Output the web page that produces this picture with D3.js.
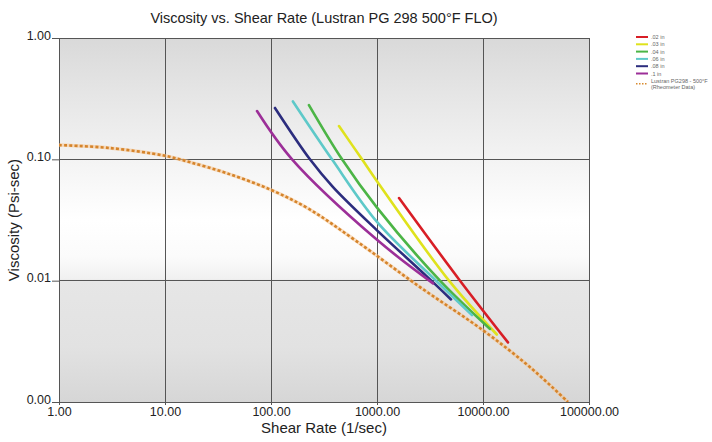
<!DOCTYPE html>
<html><head><meta charset="utf-8">
<script src="https://cdn.jsdelivr.net/npm/d3@7"></script>
<style>
html,body{margin:0;padding:0;background:#fff;}
svg{display:block;font-family:"Liberation Sans",Arial,sans-serif;}
</style></head>
<body>
<svg id="chart" width="712" height="442"></svg>
<script>
// ---- data ----
const shearTicks = [1, 10, 100, 1000, 10000, 100000];
const viscTicks = [0.001, 0.01, 0.1, 1];
const seriesNames = [".02 in", ".03 in", ".04 in", ".06 in", ".08 in", ".1 in"];
const seriesColors = ["#d81e26", "#dfe21c", "#4cb546", "#5ec9c9", "#2c2d7e", "#9c2f98"];
const s02 = [[1614, 0.048], [6070, 0.0100], [17200, 0.0031]];
const s03 = [[438, 0.188], [722, 0.100], [1000, 0.066], [4780, 0.0100], [13500, 0.0036]];
const s04 = [[228, 0.28], [468, 0.100], [1000, 0.040], [3930, 0.0100], [11650, 0.0040]];
const s06 = [[161, 0.30], [376, 0.100], [1000, 0.0305], [3600, 0.0100], [7870, 0.0052]];
const s08 = [[109, 0.265], [233, 0.100], [385, 0.059], [1000, 0.026], [2900, 0.011], [4990, 0.0070]];
const s10 = [[73.8, 0.25], [158, 0.100], [1000, 0.0217], [3375, 0.0095]];
const rheoName = ["Lustran PG298 - 500°F", "(Rheometer Data)"];
const rheo = [[1, 0.131], [3, 0.124], [10, 0.107], [17, 0.095], [38, 0.077], [100, 0.056],
  [228, 0.039], [634, 0.0213], [2545, 0.00885], [10000, 0.0039], [27700, 0.00194], [63400, 0.001]];
const allSeries = [s02, s03, s04, s06, s08, s10];

// ---- layout ----
const svg = d3.select("#chart");
const L = 59, R = 589, T = 38, B = 402;
const x = d3.scaleLog().domain([1, 100000]).range([L, R]);
const y = d3.scaleLog().domain([0.001, 1]).range([B, T]);

const defs = svg.append("defs");
const g = defs.append("linearGradient").attr("id", "bg").attr("x1", 0).attr("y1", 0).attr("x2", 0).attr("y2", 1);
[[0, "#d9d9d9"], [0.2, "#e9e9e9"], [0.33, "#f3f3f3"], [0.5, "#ffffff"], [0.6, "#fbfbfb"], [0.66, "#f1f1f1"],
 [0.67, "#e6e6e6"], [0.85, "#e2e2e2"], [1, "#d6d6d6"]].forEach(([o, c]) =>
  g.append("stop").attr("offset", o).attr("stop-color", c));
defs.append("clipPath").attr("id", "clip").append("rect")
  .attr("x", L).attr("y", T).attr("width", R - L).attr("height", B - T);

svg.append("rect").attr("x", L).attr("y", T).attr("width", R - L).attr("height", B - T).attr("fill", "url(#bg)");

// grid
svg.append("g").selectAll("line").data(shearTicks).join("line")
  .attr("x1", d => x(d)).attr("x2", d => x(d)).attr("y1", T).attr("y2", B)
  .attr("stroke", "#555").attr("stroke-width", 1).attr("shape-rendering", "crispEdges");
svg.append("g").selectAll("line").data(viscTicks).join("line")
  .attr("x1", L).attr("x2", R).attr("y1", d => y(d)).attr("y2", d => y(d))
  .attr("stroke", "#555").attr("stroke-width", 1).attr("shape-rendering", "crispEdges");

// axes
const fmt = d3.format(".2f");
const xa = svg.append("g").attr("transform", `translate(0,${B})`)
  .call(d3.axisBottom(x).tickValues(shearTicks).tickFormat(fmt).tickSize(3).tickPadding(2));
const ya = svg.append("g").attr("transform", `translate(${L},0)`)
  .call(d3.axisLeft(y).tickValues(viscTicks).tickFormat(fmt).tickSize(7).tickPadding(1));
[xa, ya].forEach(a => {
  a.select(".domain").attr("stroke", "#555");
  a.selectAll(".tick line").attr("stroke", "#555");
  a.selectAll("text").attr("font-size", 12.5).attr("fill", "#222").attr("font-family", "Liberation Sans, Arial, sans-serif");
});
ya.selectAll("text").attr("dy", "0.1em");

// lines
const line = d3.line().x(d => x(d[0])).y(d => y(d[1])).curve(d3.curveCatmullRom.alpha(0.5));
const plot = svg.append("g").attr("clip-path", "url(#clip)");
plot.append("path").attr("d", line(rheo)).attr("fill", "none")
  .attr("stroke", "#f7c58e").attr("stroke-width", 3.5).attr("opacity", 0.55);
plot.append("path").attr("d", line(rheo)).attr("fill", "none")
  .attr("stroke", "#d5842b").attr("stroke-width", 2.6).attr("stroke-dasharray", "3,2.2");
allSeries.forEach((s, i) => {
  plot.append("path").attr("d", line(s)).attr("fill", "none")
    .attr("stroke", seriesColors[i]).attr("stroke-width", 2.6).attr("stroke-linecap", "round");
});

// titles
svg.append("text").attr("x", (L + R) / 2).attr("y", 23).attr("text-anchor", "middle")
  .attr("font-size", 14.5).attr("fill", "#222").text("Viscosity vs. Shear Rate (Lustran PG 298 500°F FLO)");
svg.append("text").attr("x", (L + R) / 2).attr("y", 433).attr("text-anchor", "middle")
  .attr("font-size", 15).attr("fill", "#222").text("Shear Rate (1/sec)");
svg.append("text").attr("transform", `translate(19,${(T + B) / 2}) rotate(-90)`).attr("text-anchor", "middle")
  .attr("font-size", 15).attr("fill", "#222").text("Viscosity (Psi-sec)");

// legend
const lg = svg.append("g");
seriesNames.forEach((n, i) => {
  const yy = 37 + i * 7.3;
  lg.append("line").attr("x1", 636).attr("x2", 648).attr("y1", yy).attr("y2", yy)
    .attr("stroke", seriesColors[i]).attr("stroke-width", 2);
  lg.append("text").attr("x", 651).attr("y", yy + 2).attr("font-size", 5.5).attr("fill", "#666").text(n);
});
const ly = 37 + 6 * 7.3 + 3;
lg.append("line").attr("x1", 636).attr("x2", 648).attr("y1", ly).attr("y2", ly)
  .attr("stroke", "#d88a2e").attr("stroke-width", 1.5).attr("stroke-dasharray", "1.5,1.5");
lg.append("text").attr("x", 651).attr("y", ly - 1).attr("font-size", 5.5).attr("fill", "#666").text(rheoName[0]);
lg.append("text").attr("x", 651).attr("y", ly + 5.5).attr("font-size", 5.5).attr("fill", "#666").text(rheoName[1]);
</script>
</body></html>
